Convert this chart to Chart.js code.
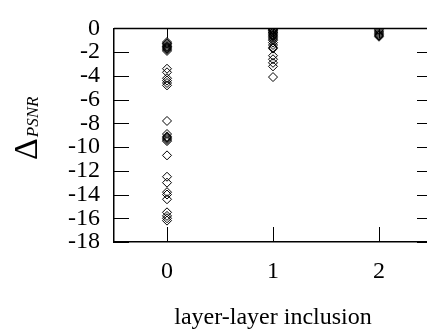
<!DOCTYPE html>
<html>

<head>
  <title>Delta PSNR vs layer-layer inclusion</title>
  <meta charset="UTF-8">
  <script src="https://cdn.jsdelivr.net/npm/chart.js"></script>
  <style type="text/css">
    html, body {
      margin: 0;
      padding: 0;
      overflow: hidden;
      background: #fff;
    }
    #chart-container {
      width: 440px;
      height: 333px;
    }
  </style>
</head>

<body>
  <div id="chart-container">
    <canvas id="graphCanvas"></canvas>
  </div>

  <script>
    // categories on the x axis
    let inclusion = [0, 1, 2];
    // Delta PSNR values, one list per category
    let deltaAt0 = [-1.15, -1.25, -1.3, -1.4, -1.5, -1.55, -1.6, -1.7, -1.8, -1.9,
      -3.4, -3.7, -4.2, -4.4, -4.6, -4.8,
      -7.8, -8.9, -9.1, -9.2, -9.3, -9.4, -9.5, -10.7,
      -12.5, -13.0, -13.8, -14.0, -14.4, -15.5, -15.8, -16.0, -16.2];
    let deltaAt1 = [-0.05, -0.1, -0.15, -0.2, -0.3, -0.35, -0.4, -0.5, -0.6, -0.7,
      -0.8, -0.9, -1.0, -1.2, -1.4, -1.6, -1.7, -2.3, -2.6, -2.9, -3.2, -4.1];
    let deltaAt2 = [-0.1, -0.2, -0.3, -0.4, -0.5, -0.6, -0.7];
    let yTicks = [0, -2, -4, -6, -8, -10, -12, -14, -16, -18];

    let points = [];
    [deltaAt0, deltaAt1, deltaAt2].forEach(function(list, i) {
      for (var k in list) {
        points.push({ x: inclusion[i], y: list[k] });
      }
    });

    let serif = 'Liberation Serif';

    // inward ticks, top border and the y title
    let frame = {
      id: 'frame',
      afterDraw: function(chart) {
        let ctx = chart.ctx;
        let a = chart.chartArea;
        let xs = chart.scales.x;
        let ys = chart.scales.y;
        ctx.save();
        ctx.strokeStyle = '#000';
        ctx.lineWidth = 1.5;
        ctx.beginPath();
        ctx.moveTo(a.left, a.top);
        ctx.lineTo(a.right, a.top);
        ctx.stroke();
        ctx.lineWidth = 1;
        ctx.beginPath();
        yTicks.forEach(function(v) {
          let y = Math.round(ys.getPixelForValue(v)) + 0.5;
          ctx.moveTo(a.left, y);
          ctx.lineTo(a.left + 15, y);
          ctx.moveTo(a.right, y);
          ctx.lineTo(a.right - 15, y);
        });
        inclusion.forEach(function(v) {
          let x = Math.round(xs.getPixelForValue(v)) + 0.5;
          ctx.moveTo(x, a.bottom);
          ctx.lineTo(x, a.bottom - 15);
          ctx.moveTo(x, a.top);
          ctx.lineTo(x, a.top + 10);
        });
        ctx.stroke();

        // y title: Delta with PSNR subscript
        ctx.fillStyle = '#000';
        ctx.translate(37, 160);
        ctx.rotate(-Math.PI / 2);
        ctx.textBaseline = 'alphabetic';
        ctx.textAlign = 'left';
        ctx.font = '34px "' + serif + '"';
        ctx.fillText('\u0394', 0, 0);
        let w = ctx.measureText('\u0394').width;
        ctx.font = 'italic 17px "' + serif + '"';
        ctx.fillText('PSNR', w + 1, 1);
        ctx.restore();
      }
    };

    let graphTarget = document.getElementById('graphCanvas');

    let chart = new Chart(graphTarget, {
      type: 'scatter',
      data: {
        datasets: [{
          label: 'Delta PSNR',
          data: points,
          pointStyle: 'rectRot',
          radius: 4.5,
          borderWidth: 1,
          borderColor: '#000',
          backgroundColor: 'rgba(0,0,0,0)'
        }]
      },
      options: {
        responsive: true,
        maintainAspectRatio: false,
        animation: false,
        layout: {
          padding: { top: 15, right: 8, left: 0, bottom: 0 }
        },
        plugins: {
          legend: { display: false },
          tooltip: { enabled: false }
        },
        scales: {
          x: {
            type: 'linear',
            min: -0.5,
            max: 2.5,
            afterBuildTicks: function(scale) {
              scale.ticks = inclusion.map(function(v) { return { value: v }; });
            },
            afterFit: function(scale) {
              scale.height = 91;
            },
            grid: { display: false, drawTicks: false },
            border: { display: true, color: '#000', width: 1.5 },
            ticks: {
              padding: 15,
              autoSkip: false,
              maxRotation: 0,
              color: '#000',
              font: { family: serif, size: 24 }
            },
            title: {
              display: true,
              text: 'layer-layer inclusion',
              color: '#000',
              font: { family: serif, size: 24 },
              padding: { top: 4, bottom: 1 }
            }
          },
          y: {
            min: -18,
            max: 0,
            afterBuildTicks: function(scale) {
              scale.ticks = yTicks.map(function(v) { return { value: v }; });
            },
            afterFit: function(scale) {
              scale.width = 114;
            },
            grid: { display: false, drawTicks: false },
            border: { display: true, color: '#000', width: 1.5 },
            ticks: {
              padding: 14,
              autoSkip: false,
              color: '#000',
              font: { family: serif, size: 24 }
            }
          }
        }
      },
      plugins: [frame]
    });
  </script>

</body>

</html>
